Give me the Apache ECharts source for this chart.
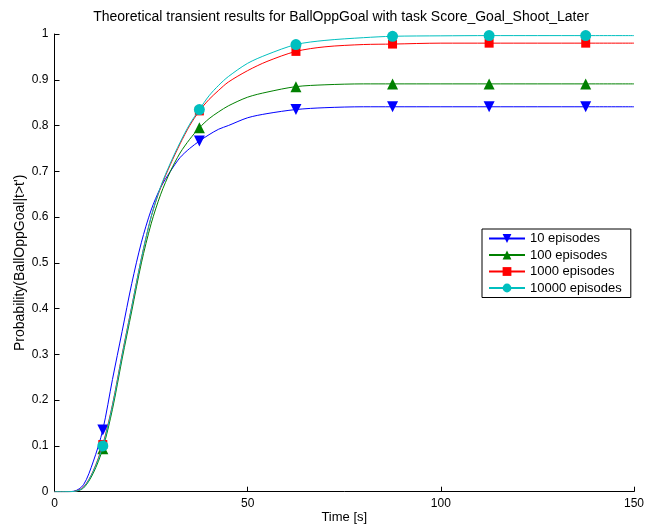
<!DOCTYPE html>
<html>
<head>
<meta charset="utf-8">
<script src="https://cdn.jsdelivr.net/npm/echarts@6/dist/echarts.min.js"></script>
<style>html,body{margin:0;padding:0;background:#fff;}#c{width:655px;height:524px;}</style>
</head>
<body>
<div id="c"></div>
<script>
const times = [0,2.5,5,7.5,10,12.5,15,17.5,20,22.5,25,27.5,30,32.5,35,37.5,40,42.5,45,50,55,62.5,70,80,87.5,100,112.5,125,137.5,150];
const markerTimes = [12.5,37.5,62.5,87.5,112.5,137.5];
const seriesNames = ['10 episodes','100 episodes','1000 episodes','10000 episodes'];
const ep10 = [0,0,0.001,0.015,0.065,0.135,0.245,0.35,0.455,0.545,0.615,0.665,0.70,0.73,0.75,0.766,0.78,0.792,0.80,0.817,0.826,0.835,0.839,0.841,0.841,0.841,0.841,0.841,0.841,0.841];
const ep100 = [0,0,0.0005,0.008,0.04,0.094,0.18,0.29,0.395,0.5,0.585,0.65,0.70,0.74,0.77,0.795,0.815,0.83,0.843,0.862,0.873,0.885,0.889,0.891,0.891,0.891,0.891,0.891,0.891,0.891];
const ep1000 = [0,0,0.0005,0.01,0.045,0.103,0.19,0.3,0.405,0.51,0.6,0.665,0.715,0.76,0.80,0.832,0.857,0.877,0.895,0.92,0.94,0.962,0.972,0.977,0.978,0.98,0.98,0.98,0.98,0.98];
const ep10000 = [0,0,0.0005,0.009,0.044,0.1,0.188,0.298,0.404,0.51,0.6,0.667,0.718,0.763,0.803,0.835,0.865,0.888,0.907,0.936,0.955,0.977,0.986,0.992,0.995,0.996,0.9965,0.9965,0.9965,0.9965];
const xTicks = [0,50,100,150];
const yTicks = [0,0.1,0.2,0.3,0.4,0.5,0.6,0.7,0.8,0.9,1];

const styles = [
  {color:'#0000ff', symbol:'triangle', rotate:180},
  {color:'#008000', symbol:'triangle', rotate:0},
  {color:'#ff0000', symbol:'rect', rotate:0},
  {color:'#00bfbf', symbol:'circle', rotate:0}
];
const allVals = [ep10, ep100, ep1000, ep10000];
const font = 'Liberation Sans, Arial, Helvetica, sans-serif';

const series = allVals.map((vals, i) => ({
  name: seriesNames[i],
  type: 'line',
  smooth: 0.3,
  symbol: styles[i].symbol,
  symbolRotate: styles[i].rotate,
  symbolSize: styles[i].symbol === 'rect' ? 9 : 11,
  showSymbol: true,
  color: styles[i].color,
  lineStyle: {width: 1, color: styles[i].color},
  itemStyle: {color: styles[i].color},
  emphasis: {disabled: true},
  animation: false,
  z: 2 + i,
  data: times.map((t, j) => markerTimes.includes(t)
    ? {value: [t, vals[j]]}
    : {value: [t, vals[j]], symbol: 'none'})
}));

const chart = echarts.init(document.getElementById('c'), null, {renderer: 'canvas'});
chart.setOption({
  backgroundColor: '#fff',
  animation: false,
  title: {
    text: 'Theoretical transient results for BallOppGoal with task Score_Goal_Shoot_Later',
    left: 336, top: 5, textAlign: 'center',
    textStyle: {fontFamily: font, fontSize: 14, fontWeight: 'normal', color: '#000'}
  },
  legend: {
    orient: 'vertical',
    left: 482, top: 229,
    itemWidth: 36, itemHeight: 11, itemGap: 3.5,
    padding: [3, 9, 3, 6],
    borderColor: '#000', borderWidth: 1, borderRadius: 0,
    backgroundColor: '#fff',
    textStyle: {fontFamily: font, fontSize: 13, color: '#000'},
    data: seriesNames
  },
  grid: {left: 54.5, right: 21, top: 34, bottom: 32.3, containLabel: false, outerBoundsMode: 'none'},
  xAxis: {
    type: 'value', min: 0, max: 150, interval: 50,
    name: 'Time [s]', nameLocation: 'middle', nameGap: 19, nameMoveOverlap: false,
    nameTextStyle: {fontFamily: font, fontSize: 13, color: '#000'},
    axisLine: {show: true, lineStyle: {color: '#000', width: 1}},
    axisTick: {show: true, inside: true, length: 5, lineStyle: {color: '#000'}},
    axisLabel: {fontFamily: font, fontSize: 12, color: '#000', margin: 6,
      customValues: xTicks},
    splitLine: {show: false}
  },
  yAxis: {
    type: 'value', min: 0, max: 1, interval: 0.1,
    name: "Probability(BallOppGoal|t>t')", nameLocation: 'middle', nameGap: 27, nameMoveOverlap: false,
    nameTextStyle: {fontFamily: font, fontSize: 14, color: '#000'},
    axisLine: {show: true, lineStyle: {color: '#000', width: 1}},
    axisTick: {show: true, inside: true, length: 5, lineStyle: {color: '#000'}},
    axisLabel: {fontFamily: font, fontSize: 12, color: '#000', margin: 6,
      formatter: v => String(Math.round(v * 10) / 10)},
    splitLine: {show: false}
  },
  series: series
});
</script>
</body>
</html>
